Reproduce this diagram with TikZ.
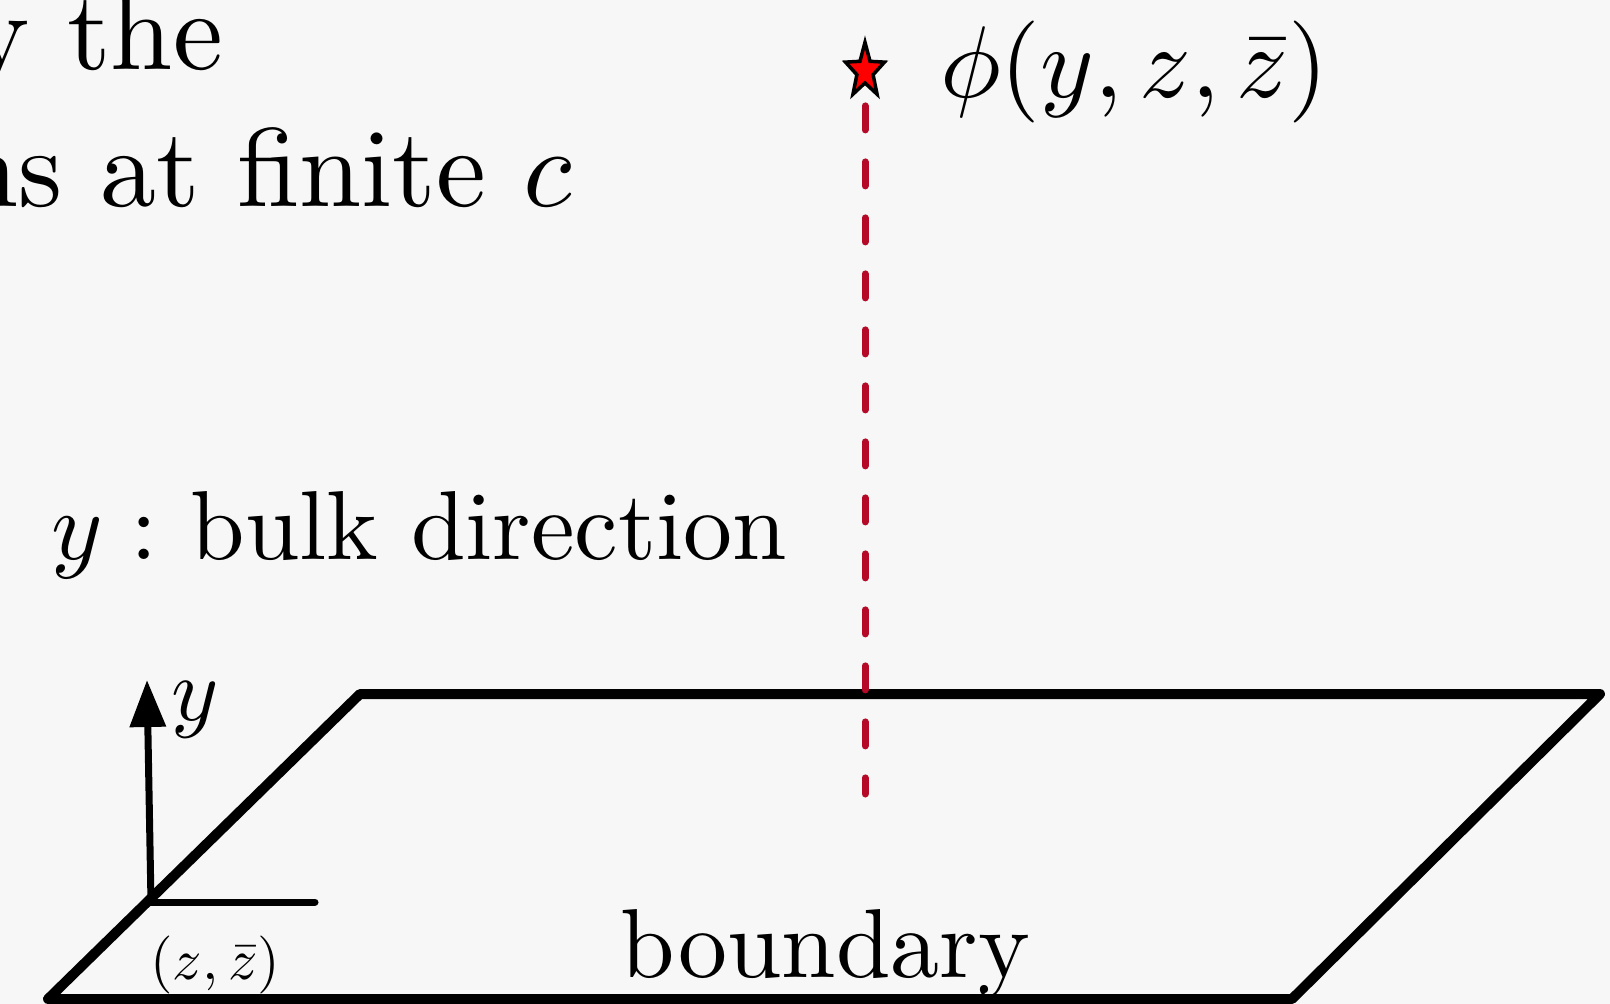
\documentclass[tikz,border=0pt]{standalone}
\usetikzlibrary{arrows.meta,shapes.geometric}
\definecolor{slidebg}{RGB}{247,247,247}
\definecolor{bulkred}{RGB}{180,10,40}

\begin{document}
\begin{tikzpicture}[x=0.5pt,y=-0.5pt,
  plane/.style={line width=5pt,line join=round},
  axis/.style={line width=3.5pt,line cap=round},
  lab/.style={inner sep=0pt,anchor=base west,font=\fontsize{10}{12}\selectfont},
  phidash/.style={bulkred,line width=3.5pt,line cap=round,dash pattern=on 12pt off 16pt}]
  \fill[slidebg] (0,0) rectangle (1610,1004);
  \useasboundingbox (0,0) rectangle (1610,1004);
  \begin{scope}
  \clip (0,0) rectangle (1610,1004);
  % title, cut at the left edge
  \node[lab,anchor=base east,scale=5.6] (title1) at (225,70) {y the};
  \node[lab,anchor=base east,scale=5.6] (title2) at (574,207) {ns at finite $c$};
  % the boundary plane
  \coordinate (bl) at (48,999);
  \coordinate (br) at (1292,999);
  \coordinate (tr) at (1600,694);
  \coordinate (tl) at (360,694);
  \draw[plane] (bl) -- (br) -- (tr) -- (tl) -- cycle;
  \end{scope}
  % axes at the origin
  \coordinate (o) at (151,902);
  \coordinate (ytip) at (147,680);
  \coordinate (zend) at (315,902);
  \draw[axis,-{Triangle[length=23.5pt,width=17.5pt]}] (o) -- (ytip);
  \draw[axis] (o) -- (zend);
  \node[lab,scale=4.5] (ylab) at (170,720) {$y$};
  \node[lab,scale=2.9] (zlab) at (149,979) {$(z,\bar z)$};
  \node[lab,scale=4.9] (bulk) at (50,560) {$y:$ bulk direction};
  \node[lab,scale=4.9] (bdry) at (619,977) {boundary};
  % bulk point and its projection
  \node[star,star points=5,star point ratio=2.4,draw,fill=red,line width=1.75pt,
    minimum size=20.5pt,inner sep=0pt,yscale=1.4,transform shape] (src) at (865,71) {};
  \node[lab,scale=5.1] (phi) at (938,98) {$\phi(y,z,\bar z)$};
  \coordinate (foot) at (865,794);
  \draw[phidash] ([yshift=-10pt]src.south) -- (foot);
\end{tikzpicture}
\end{document}
